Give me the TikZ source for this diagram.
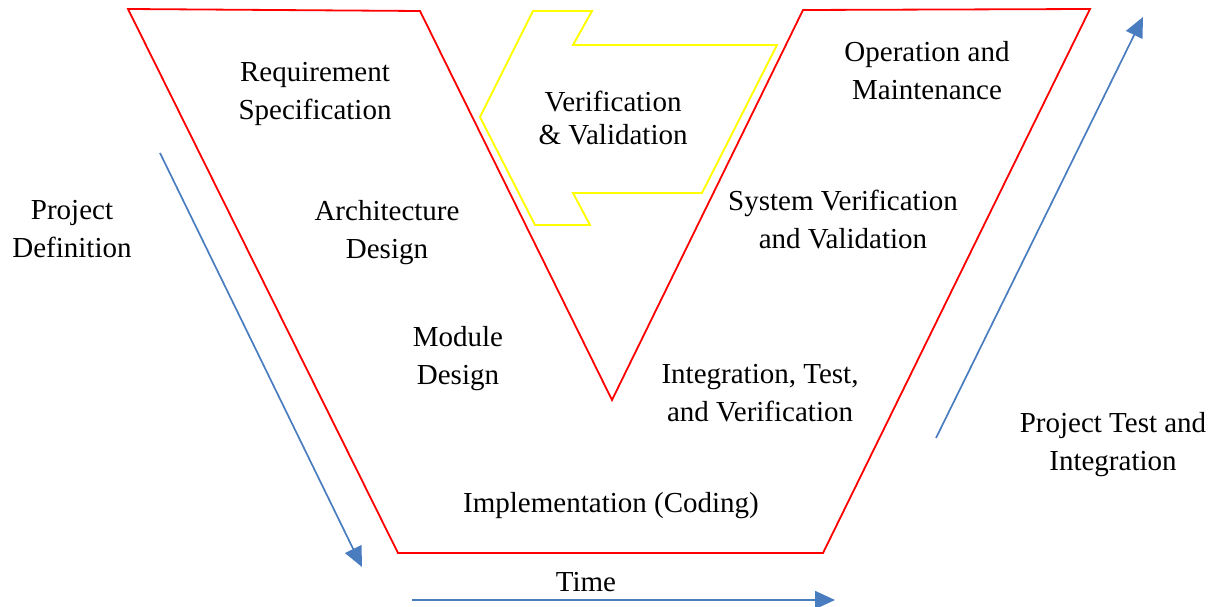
\documentclass[tikz,border=0pt]{standalone}
\usepackage{fontspec}
\setmainfont{Liberation Serif}
\usetikzlibrary{arrows.meta}
\definecolor{vred}{HTML}{FF0000}
\definecolor{vyel}{HTML}{FFFF00}
\definecolor{vblue}{HTML}{4A7CC0}
\tikzset{
  lbl/.style={align=center, inner sep=0pt, font=\fontsize{29}{38}\selectfont},
  vline/.style={draw=vred, line width=1.8pt, line join=miter},
  yline/.style={draw=vyel, line width=1.9pt, line join=miter},
  barrow/.style={draw=vblue, line width=1.7pt, -{Triangle[length=20pt,width=18pt]}}
}
\begin{document}
\begin{tikzpicture}[x=1pt,y=-1pt]
\useasboundingbox (0,0) rectangle (1217,607);
% red V outline
\draw[vline] (128,9) -- (420,11) -- (612,400) -- (803,10) -- (1090,9) -- (823,553) -- (398,553) -- cycle;
% yellow arrow
\draw[yline] (533,11) -- (592,11) -- (573,45) -- (777,45) -- (702,193) -- (573,193) -- (590,225) -- (535,225) -- (480,117) -- cycle;
% coordinates for arrows
\coordinate (la) at (160,153);
\coordinate (lb) at (362,567);
\coordinate (ra) at (936,438);
\coordinate (rb) at (1143,17);
\coordinate (ta) at (412,600);
\coordinate (tb) at (835,600);
\draw[barrow] (la) -- (lb);
\draw[barrow] (ra) -- (rb);
\draw[barrow] (ta) -- (tb);
% labels
\node[lbl] (req) at (315,94) {Requirement\\Specification};
\node[lbl, font=\fontsize{29}{33}\selectfont] (vv) at (613,118) {Verification\\\&~Validation};
\node[lbl] (om) at (927,71) {Operation and\\Maintenance};
\node[lbl] (pd) at (72,229) {Project\\Definition};
\node[lbl] (ad) at (387,233) {Architecture\\Design};
\node[lbl] (svv) at (843,220) {System Verification\\and Validation};
\node[lbl] (md) at (458,359) {Module\\Design};
\node[lbl] (itv) at (760,393) {Integration, Test,\\and Verification};
\node[lbl] (pti) at (1113,445) {Project Test and\\Integration};
\node[lbl] (impl) at (611,506) {Implementation (Coding)};
\node[lbl] (time) at (586,582) {Time};
\end{tikzpicture}
\end{document}
